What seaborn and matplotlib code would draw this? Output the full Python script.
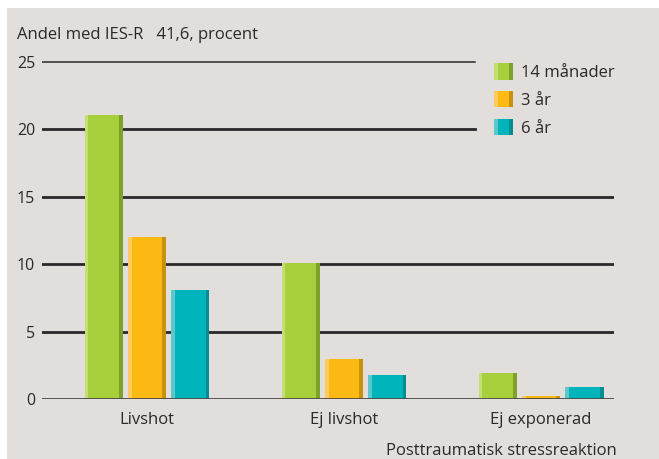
import pandas as pd
import numpy as np
import matplotlib.pyplot as plt
import seaborn as sns
from matplotlib.patches import Rectangle
from matplotlib.legend_handler import HandlerBase

# Data
groups = ["Livshot", "Ej livshot", "Ej exponerad"]
periods = ["14 månader", "3 år", "6 år"]
v_14man = [21.1, 10.1, 1.9]
v_3ar = [12.0, 3.0, 0.2]
v_6ar = [8.1, 1.8, 0.9]
yticks = [0, 5, 10, 15, 20, 25]

base = {"14 månader": "#A8CF3C", "3 år": "#FDB913", "6 år": "#00B4BC"}
light = {"14 månader": "#C3DE72", "3 år": "#FFCB5E", "6 år": "#5CC8CC"}
dark = {"14 månader": "#7FA12A", "3 år": "#C9920E", "6 år": "#008E93"}
bg = "#E2DEDB"
ink = "#2B2829"

df = pd.DataFrame({
    "grupp": groups * 3,
    "period": [periods[0]] * 3 + [periods[1]] * 3 + [periods[2]] * 3,
    "andel": v_14man + v_3ar + v_6ar,
})

plt.rcParams['font.family'] = ['Open Sans', 'DejaVu Sans']

fig = plt.figure(figsize=(6.59, 4.59), dpi=100, facecolor="white")
fig.patches.append(Rectangle((7 / 659, 0), 1, 451 / 459, transform=fig.transFigure,
                             facecolor=bg, edgecolor="none", zorder=-10))
ax = fig.add_axes([42 / 659, 60 / 459, 572 / 659, (399 - 48.5) / 459])
ax.set_facecolor("none")

sns.barplot(data=df, x="grupp", y="andel", hue="period", order=groups,
            hue_order=periods, palette=base, width=0.66, gap=0.12,
            saturation=1, legend=False, ax=ax, zorder=3)

# shaded edges on each bar
for cont, p in zip(ax.containers, periods):
    for bar in cont:
        x, w, h = bar.get_x(), bar.get_width(), bar.get_height()
        s = w * 0.1
        ax.add_patch(Rectangle((x, 0), s, h, facecolor=light[p], edgecolor="none", zorder=4))
        ax.add_patch(Rectangle((x + w - s, 0), s, h, facecolor=dark[p], edgecolor="none", zorder=4))

ax.set_ylim(0, 26)
ax.set_xlim(-0.533, 2.37)
for t in yticks[1:]:
    xmax = 0.757 if t >= 20 else 1
    ax.axhline(t, xmin=0, xmax=xmax, color=ink, lw=1.1 if t == 25 else 2.0, zorder=1)
ax.axhline(0, color="#4A4848", lw=1.3, zorder=6)

ax.set_yticks(yticks)
ax.tick_params(axis="both", length=0, labelsize=11.5, labelcolor=ink)
ax.tick_params(axis="y", pad=5)
ax.tick_params(axis="x", pad=9, labelsize=12)
for sp in ax.spines.values():
    sp.set_visible(False)
ax.set_ylabel("")
ax.set_xlabel("")

fig.text(17 / 659, 1 - 35 / 459, "Andel med IES-R   41,6, procent", fontsize=12,
         color=ink, va="center", ha="left")
fig.text(617 / 659, 1 - 451 / 459, "Posttraumatisk stressreaktion", fontsize=12,
         color=ink, va="center", ha="right")


class ShadedHandler(HandlerBase):
    def create_artists(self, legend, orig_handle, xdescent, ydescent, width,
                       height, fontsize, trans):
        p = orig_handle.get_label()
        s = width * 0.2
        return [
            Rectangle((-xdescent, -ydescent), width, height, facecolor=base[p],
                      edgecolor="none", transform=trans),
            Rectangle((-xdescent, -ydescent), s, height, facecolor=light[p],
                      edgecolor="none", transform=trans),
            Rectangle((-xdescent + width - s, -ydescent), s, height, facecolor=dark[p],
                      edgecolor="none", transform=trans),
        ]


handles = [Rectangle((0, 0), 1, 1, label=p) for p in periods]
leg = fig.legend(handles=handles, labels=periods, loc="upper left",
                 bbox_to_anchor=(494 / 659, 1 - 63 / 459), frameon=False,
                 borderaxespad=0, borderpad=0,
                 fontsize=12, handlelength=1.15, handleheight=1.15,
                 handletextpad=0.45, labelspacing=0.6,
                 handler_map={Rectangle: ShadedHandler()})
for t in leg.get_texts():
    t.set_color(ink)

fig.savefig("out.png", dpi=100, facecolor="white")
